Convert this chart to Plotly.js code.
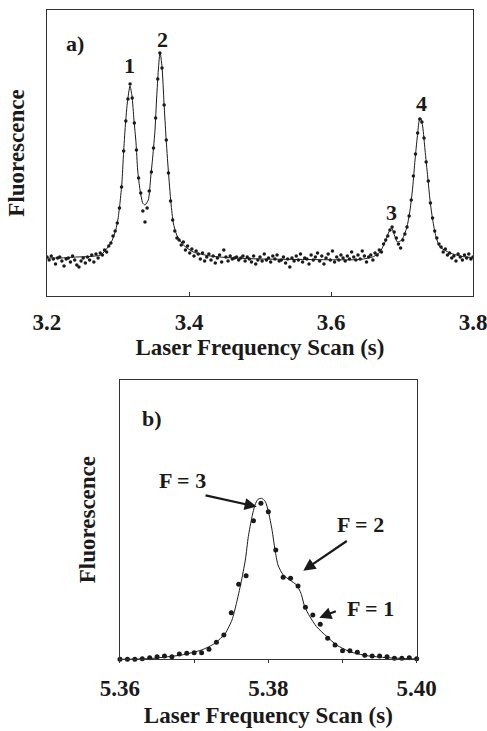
<!DOCTYPE html>
<html>
<head>
<meta charset="utf-8">
<script src="https://cdn.plot.ly/plotly-3.0.1.min.js"></script>
<style>html,body{margin:0;padding:0;background:#fff;}#chart{width:487px;height:731px;}</style>
</head>
<body>
<div id="chart"></div>
<script>
// ---------- Panel a: measured points ----------
const dotsAx = [
3.200,3.203,3.206,3.209,3.212,3.215,3.218,3.221,3.224,3.227,
3.230,3.233,3.236,3.239,3.242,3.245,3.248,3.251,3.254,3.257,
3.260,3.263,3.266,3.269,3.272,3.275,3.278,3.281,3.284,3.287,
3.290,3.293,3.296,3.299,3.302,3.305,3.308,3.311,3.314,3.317,
3.320,3.323,3.326,3.329,3.332,3.335,3.338,3.341,3.344,3.347,
3.350,3.353,3.356,3.359,3.362,3.365,3.368,3.371,3.374,3.377,
3.380,3.383,3.386,3.389,3.392,3.395,3.398,3.401,3.404,3.407,
3.410,3.413,3.416,3.419,3.422,3.425,3.428,3.431,3.434,3.437,
3.440,3.443,3.446,3.449,3.452,3.455,3.458,3.461,3.464,3.467,
3.470,3.473,3.476,3.479,3.482,3.485,3.488,3.491,3.494,3.497,
3.500,3.503,3.506,3.509,3.512,3.515,3.518,3.521,3.524,3.527,
3.530,3.533,3.536,3.539,3.542,3.545,3.548,3.551,3.554,3.557,
3.560,3.563,3.566,3.569,3.572,3.575,3.578,3.581,3.584,3.587,
3.590,3.593,3.596,3.599,3.602,3.605,3.608,3.611,3.614,3.617,
3.620,3.623,3.626,3.629,3.632,3.635,3.638,3.641,3.644,3.647,
3.650,3.653,3.656,3.659,3.662,3.665,3.668,3.671,3.674,3.677,
3.680,3.683,3.686,3.689,3.692,3.695,3.698,3.701,3.704,3.707,
3.710,3.713,3.716,3.719,3.722,3.725,3.728,3.731,3.734,3.737,
3.740,3.743,3.746,3.749,3.752,3.755,3.758,3.761,3.764,3.767,
3.770,3.773,3.776,3.779,3.782,3.785,3.788,3.791,3.794,3.797,
3.800];
const dotsAy = [
1,-2,2,-1,-6,0,1,-3,-8,-1,
0,-4,2,-2,-7,-9,-3,0,-5,1,
-2,3,-4,4,0,5,3,8,6,12,
15,22,27,35,50,71,107,137,159,174,
160,135,108,80,65,47,36,50,67,86,
110,140,179,205,190,153,118,85,57,38,
27,20,18,13,16,8,12,5,9,2,
7,4,-1,5,-3,1,4,-2,2,-5,
0,3,-4,8,1,-3,2,-1,0,1,
-2,0,2,-3,1,-1,-4,2,-6,-2,
1,-3,4,-2,0,-4,2,-1,3,-3,
-2,1,-5,-1,-9,0,-3,2,-2,4,
-4,0,-1,-6,3,-2,1,5,-3,2,
-6,0,4,-2,7,-4,1,-2,3,0,
-3,2,-1,6,1,-2,3,-1,7,2,
-4,1,3,-2,5,3,8,6,14,18,
22,28,31,26,20,14,10,18,24,31,
42,58,82,104,125,139,136,120,96,77,
55,40,27,20,14,11,6,9,3,5,
0,2,-3,4,1,-2,3,0,4,-1,
1];

// ---------- Panel a: fitted curve ----------
const fitAx = [3.200,3.2183,3.2423,3.2606,3.2756,3.286,3.292,3.2968,3.300,3.3028,
3.3056,3.3075,3.3099,3.3131,3.3169,3.3197,3.3225,3.3254,3.3277,3.331,
3.3348,3.338,3.3427,3.3461,3.3489,3.3521,3.3545,3.3568,3.3592,3.362,
3.3648,3.3676,3.3708,3.3746,3.3779,3.3827,3.392,3.406,3.4296,3.462,
3.500,3.560,3.6408,3.6596,3.669,3.6761,3.6808,3.6855,3.6892,3.6934,
3.6996,3.7066,3.7113,3.7151,3.7183,3.7215,3.7244,3.7263,3.7292,3.7324,
3.7362,3.7394,3.7432,3.7479,3.7535,3.7676,3.7863,3.800];
const fitAy = [0,0,1,1.5,3,11,18,28,39,55,
76,101,128,155,172,162,138,115,88,68,
55,53,58,81,101,128,161,188,206,191,
155,121,88,55,35,23,13,6,2,0,
-1,-1.5,-1.5,1.3,6,16,25,30,23,16,
18,30,48,71,98,121,138,140,131,108,
81,58,38,21,11,5,1.3,0.5];

const ticksA = [3.2, 3.4, 3.6, 3.8];
const tickTextA = ['3.2', '3.4', '3.6', '3.8'];
const peakLabelsA = ['1', '2', '3', '4'];
const peakLabelXA = [3.3169, 3.3627, 3.6845, 3.7268];
const peakLabelYA = [192.5, 219, 45.5, 154.5];

// ---------- Panel b: measured points ----------
const dotsBx = [5.360,5.361,5.362,5.363,5.364,5.365,5.366,5.367,5.368,5.369,
5.370,5.371,5.372,5.373,5.374,5.375,5.376,5.377,5.378,5.379,
5.380,5.381,5.382,5.383,5.384,5.385,5.386,5.387,5.388,5.389,
5.390,5.391,5.392,5.393,5.394,5.395,5.396,5.397,5.398,5.399,5.400];
const dotsBy = [0,0,0,0.5,1.6,2.6,3.3,2.6,5.3,6,
6.6,6.6,10,17,24.3,46.6,75,83.6,138.6,156,
147.6,109.3,82,81,73.3,52,44.3,35,21,14.3,
8.6,8.6,7,4,3.3,3.3,2.6,1,1,1.6,0.5];

// ---------- Panel b: fitted curve ----------
const fitBx = [5.360,5.3638,5.3683,5.3710,5.3728,5.3742,5.3751,5.3757,5.3763,5.3769,
5.3773,5.3778,5.3782,5.3786,5.3791,5.3796,5.3800,5.3805,5.3809,5.3813,
5.3820,5.3829,5.3838,5.3844,5.3849,5.3856,5.3865,5.3879,5.3892,5.3910,
5.3933,5.3960,5.4000];
const fitBy = [0,0.6,4.3,9.3,16,26,39.3,56,76,99.3,
122.6,142.6,154.3,160,161,157.6,148,129.3,109.3,94.3,
84.3,79.3,74.3,66,52.6,42.6,32.6,22.6,14.3,7.6,
3.6,1.6,0.3];

const ticksB = [5.36, 5.37, 5.38, 5.39, 5.40];
const tickTextB = ['5.36', '', '5.38', '', '5.40'];
const hyperfineLabels = ['F = 3', 'F = 2', 'F = 1'];

const FONT = 'Liberation Serif, "Times New Roman", Times, serif';
const INK = '#1a1a1a';

const traces = [
  {x: fitAx, y: fitAy, mode: 'lines', line: {color: INK, width: 1, shape: 'spline', smoothing: 0.6}, xaxis: 'x', yaxis: 'y', hoverinfo: 'skip'},
  {x: dotsAx, y: dotsAy, mode: 'markers', marker: {color: INK, size: 3.5}, xaxis: 'x', yaxis: 'y'},
  {x: fitBx, y: fitBy, mode: 'lines', line: {color: INK, width: 1, shape: 'spline', smoothing: 0.6}, xaxis: 'x2', yaxis: 'y2', hoverinfo: 'skip', cliponaxis: false},
  {x: dotsBx, y: dotsBy, mode: 'markers', marker: {color: INK, size: 5}, xaxis: 'x2', yaxis: 'y2', cliponaxis: false}
];

const axisCommon = {
  showline: true, mirror: true, linecolor: '#333', linewidth: 1.2,
  showgrid: false, zeroline: false,
  tickfont: {family: FONT, size: 23, color: INK, weight: 'bold'},
  tickcolor: '#333',
  ticklabeloverflow: 'allow'
};
const titleFont = {family: FONT, size: 23, color: INK, weight: 'bold'};
const labelFont = {family: FONT, size: 22, color: INK, weight: 'bold'};

const annotations = [];
for (let i = 0; i < peakLabelsA.length; i++) {
  annotations.push({xref: 'x', yref: 'y', x: peakLabelXA[i], y: peakLabelYA[i], text: peakLabelsA[i],
    showarrow: false, font: labelFont});
}
annotations.push({xref: 'x', yref: 'y', x: 3.2401, y: 215, text: 'a)', showarrow: false, font: labelFont});
annotations.push({xref: 'x2', yref: 'y2', x: 5.36426, y: 240.8, text: 'b)', showarrow: false, font: labelFont});
// hyperfine labels
const hfX = [5.36849, 5.39236, 5.39384];
const hfY = [178.3, 134.3, 50.3];
for (let i = 0; i < 3; i++) {
  annotations.push({xref: 'x2', yref: 'y2', x: hfX[i], y: hfY[i], text: hyperfineLabels[i], showarrow: false,
    font: labelFont});
}
// arrows (tail -> head)
const arrows = [
  {tx: 5.37133, ty: 164.3, hx: 5.37843, hy: 152.6},
  {tx: 5.39078, ty: 119.3, hx: 5.38471, hy: 88.6},
  {tx: 5.38930, ty: 48.6, hx: 5.38687, hy: 41.6}
];
arrows.forEach(a => {
  annotations.push({xref: 'x2', yref: 'y2', axref: 'x2', ayref: 'y2', x: a.hx, y: a.hy, ax: a.tx, ay: a.ty,
    text: '', showarrow: true, arrowhead: 2, arrowsize: 1.1, arrowwidth: 2.2, arrowcolor: INK});
});

const layout = {
  width: 487, height: 731,
  margin: {l: 0, r: 0, t: 0, b: 0},
  paper_bgcolor: '#fff', plot_bgcolor: '#fff',
  showlegend: false,
  font: {family: FONT, size: 22, color: INK},
  xaxis: Object.assign({}, axisCommon, {
    domain: [0.0965, 0.9713], range: [3.2, 3.8], anchor: 'y',
    tickvals: ticksA, ticktext: tickTextA, ticks: 'inside', ticklen: 4,
    ticklabelstandoff: 5,
    title: {text: 'Laser Frequency Scan (s)', font: titleFont, standoff: 5}
  }),
  yaxis: Object.assign({}, axisCommon, {
    domain: [0.5951, 0.9863], range: [-38, 248], anchor: 'x',
    showticklabels: false, ticks: '',
    title: {text: 'Fluorescence', font: titleFont, standoff: 14}
  }),
  xaxis2: Object.assign({}, axisCommon, {
    domain: [0.2464, 0.8556], range: [5.36, 5.40], anchor: 'y2',
    tickvals: ticksB, ticktext: tickTextB, ticks: 'outside', ticklen: 3,
    ticklabelstandoff: 5,
    title: {text: 'Laser Frequency Scan (s)', font: titleFont, standoff: 6}
  }),
  yaxis2: Object.assign({}, axisCommon, {
    domain: [0.0981, 0.4802], range: [0, 279.3], anchor: 'x2',
    showticklabels: false, ticks: '',
    title: {text: 'Fluorescence', font: titleFont, standoff: 16}
  }),
  annotations: annotations
};

Plotly.newPlot('chart', traces, layout, {staticPlot: true, displayModeBar: false});
</script>
</body>
</html>
